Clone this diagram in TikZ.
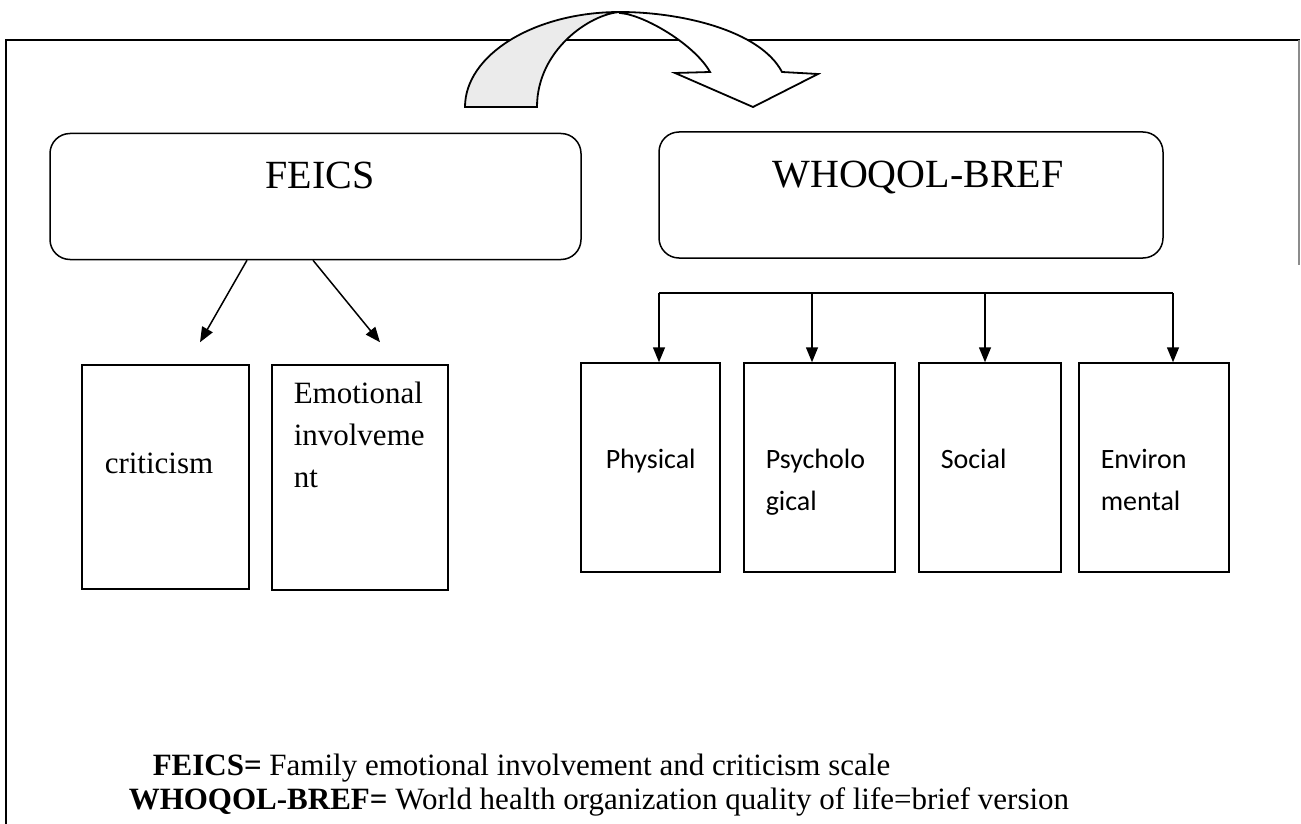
\documentclass[tikz,border=0pt]{standalone}
\usepackage{fontspec}
\setmainfont{Liberation Serif}
\newfontfamily\calib{Carlito}
\usetikzlibrary{arrows.meta}
\begin{document}
\begin{tikzpicture}[x=1pt,y=-1pt,line width=1.5pt,
  rbox/.style={draw, rounded corners=20pt, minimum width=#1, minimum height=126pt, inner sep=0pt},
  sbox/.style={draw, minimum width=#1, minimum height=208pt, inner sep=0pt},
  conn/.style={-{Triangle[length=15pt,width=12pt]}},
  ttl/.style={anchor=base, inner sep=0pt, font=\fontsize{40}{44}\selectfont},
  lbl/.style={anchor=base west, inner sep=0pt, font=\fontsize{31}{36}\selectfont},
  clbl/.style={anchor=base west, inner sep=0pt, font=\calib\fontsize{28}{32}\selectfont},
  leg/.style={anchor=base west, inner sep=0pt, font=\fontsize{31}{34}\selectfont}]
\useasboundingbox (0,0) rectangle (1301,824);
% frame
\draw[line width=1.3pt] (5,40) -- (1300,40);
\draw[line width=1.3pt] (6,40) -- (6,824);
\draw[line width=1.2pt, black!45] (1299,40) -- (1299,265);
% curved arrow
\draw[fill=white, line width=1.8pt, line join=miter] (620,12) .. controls (680,12) and (760,30) .. (782,72) -- (818,74) -- (753,107) -- (675,73) -- (710,72) .. controls (695,45) and (645,15) .. (620,13) -- cycle;
\draw[fill=black!8, line width=1.8pt] (465,107) .. controls (465,55) and (534,12) .. (620,12) .. controls (590,14) and (537,50) .. (537,107) -- cycle;
% main boxes
\node[rbox=531pt] (feics) at (315.5,196.5) {};
\node[ttl] (tfeics) at (320,188) {FEICS};
\node[rbox=504pt] (whoq) at (911,195) {};
\node[ttl] (twhoq) at (918,187) {WHOQOL-BREF};
% FEICS children
\node[sbox=167pt, minimum height=224pt] (crit) at (165.5,477) {};
\node[lbl] (tcrit) at (104,473) {criticism};
\node[sbox=176pt, minimum height=225pt] (emot) at (360,477.5) {};
\node[lbl] (temot1) at (293,403) {Emotional};
\node[lbl] (temot2) at (293,445) {involveme};
\node[lbl] (temot3) at (293,487) {nt};
\draw[conn] ([xshift=-68.5pt]feics.south) -- ([xshift=34.5pt,yshift=22pt]crit.north);
\draw[conn] ([xshift=-2.5pt]feics.south) -- ([xshift=20pt,yshift=22pt]emot.north);
% WHOQOL children
\node[sbox=139pt, minimum height=209pt] (phys) at (650.5,467.5) {};
\node[sbox=151pt, minimum height=209pt] (psych) at (819.5,467.5) {};
\node[sbox=142pt, minimum height=209pt] (soc) at (990,467.5) {};
\node[sbox=150pt, minimum height=209pt] (env) at (1154,467.5) {};
\node[clbl] (tphys) at (605,468) {Physical};
\node[clbl] (tpsy1) at (765,468) {Psycholo};
\node[clbl] (tpsy2) at (765,510) {gical};
\node[clbl] (tsoc) at (940,468) {Social};
\node[clbl] (tenv1) at (1100,468) {Environ};
\node[clbl] (tenv2) at (1100,510) {mental};
\coordinate (b1) at (659,293);
\coordinate (b2) at (812,293);
\coordinate (b3) at (985,293);
\coordinate (b4) at (1173,293);
\draw (b1) -- (b4);
\draw[conn] (b1) -- (b1 |- phys.north);
\draw[conn] (b2) -- (b2 |- psych.north);
\draw[conn] (b3) -- (b3 |- soc.north);
\draw[conn] (b4) -- (b4 |- env.north);
% legend
\node[leg] (leg1) at (152,775) {\textbf{FEICS=} Family emotional involvement and criticism scale};
\node[leg] (leg2) at (128,809) {\textbf{WHOQOL-BREF=} World health organization quality of life=brief version};
\end{tikzpicture}
\end{document}
